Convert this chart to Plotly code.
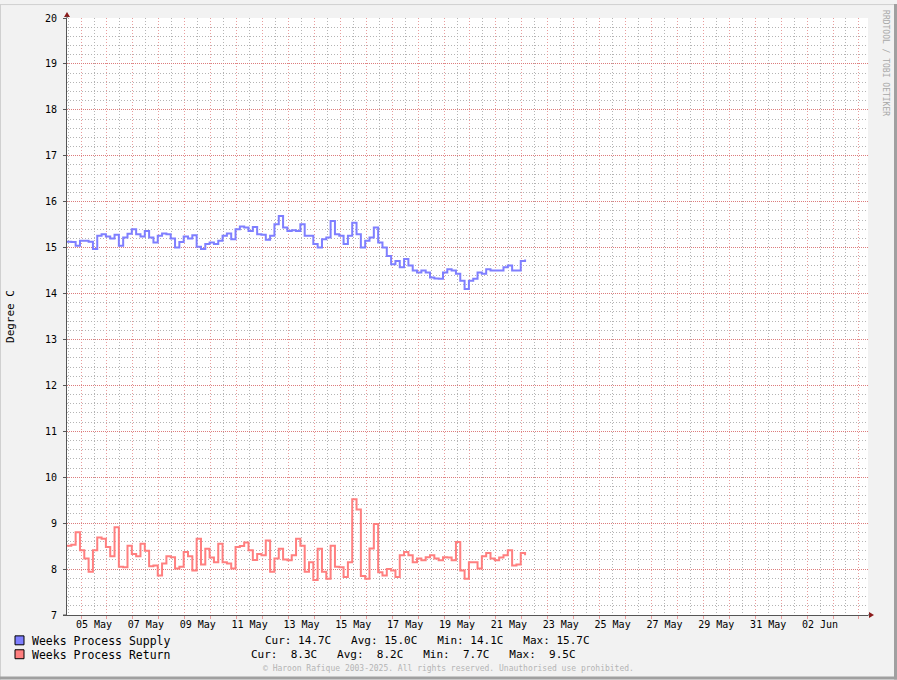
import plotly.graph_objects as go
import pandas as pd

# ---------------- data ----------------
START = "2025-05-04 11:00"
STEP = "4h"
supply = [15.13, 15.12, 15.04, 15.15, 15.15, 15.13, 14.97, 15.26, 15.29, 15.24,
          15.20, 15.28, 15.04, 15.22, 15.30, 15.40, 15.29, 15.24, 15.36, 15.22,
          15.11, 15.26, 15.31, 15.29, 15.20, 15.00, 15.12, 15.24, 15.20, 15.27,
          15.02, 14.97, 15.08, 15.11, 15.08, 15.15, 15.26, 15.31, 15.18, 15.40,
          15.46, 15.44, 15.36, 15.45, 15.29, 15.28, 15.17, 15.26, 15.51, 15.69,
          15.44, 15.36, 15.38, 15.36, 15.51, 15.26, 15.26, 15.08, 15.00, 15.18,
          15.22, 15.58, 15.29, 15.26, 15.08, 15.26, 15.54, 15.29, 15.00, 15.15,
          15.22, 15.44, 15.11, 15.00, 14.82, 14.64, 14.71, 14.57, 14.75, 14.61,
          14.50, 14.46, 14.50, 14.46, 14.35, 14.33, 14.32, 14.46, 14.53, 14.50,
          14.43, 14.28, 14.10, 14.28, 14.32, 14.46, 14.43, 14.53, 14.50, 14.50,
          14.50, 14.57, 14.61, 14.50, 14.50, 14.71, 14.74]
ret = [8.51, 8.53, 8.80, 8.41, 8.23, 7.94, 8.41, 8.69, 8.66, 8.48,
       8.28, 8.91, 8.05, 8.04, 8.51, 8.33, 8.28, 8.55, 8.40, 8.06,
       8.08, 7.86, 8.12, 8.28, 8.26, 8.01, 8.05, 8.37, 8.28, 7.97,
       8.66, 8.10, 8.44, 8.25, 8.15, 8.55, 8.15, 8.12, 8.01, 8.48,
       8.50, 8.58, 8.41, 8.20, 8.33, 8.30, 8.62, 7.94, 8.23, 8.44,
       8.21, 8.19, 8.30, 8.66, 8.51, 7.94, 8.15, 7.76, 8.44, 7.94,
       7.79, 8.51, 8.05, 8.04, 7.83, 8.15, 9.52, 9.30, 7.85, 7.79,
       8.45, 8.98, 7.93, 7.86, 8.00, 7.97, 7.83, 8.30, 8.37, 8.30,
       8.15, 8.23, 8.19, 8.26, 8.30, 8.23, 8.19, 8.26, 8.25, 8.19,
       8.59, 7.97, 7.79, 8.15, 8.15, 8.01, 8.28, 8.35, 8.23, 8.19,
       8.25, 8.30, 8.41, 8.08, 8.10, 8.35, 8.30]
label_times = ["2025-05-05 12:00", "2025-05-07 12:00", "2025-05-09 12:00", "2025-05-11 12:00",
               "2025-05-13 12:00", "2025-05-15 12:00", "2025-05-17 12:00", "2025-05-19 12:00",
               "2025-05-21 12:00", "2025-05-23 12:00", "2025-05-25 12:00", "2025-05-27 12:00",
               "2025-05-29 12:00", "2025-05-31 12:00", "2025-06-02 12:00"]
label_text = ["05 May", "07 May", "09 May", "11 May", "13 May", "15 May", "17 May", "19 May",
              "21 May", "23 May", "25 May", "27 May", "29 May", "31 May", "02 Jun"]
x_range = ["2025-05-04 11:00", "2025-06-04 08:24"]
y_range = [7, 20]
y_minor_step = 0.2
series_names = ["Weeks Process Supply", "Weeks Process Return"]
stats = ["Cur: 14.7C   Avg: 15.0C   Min: 14.1C   Max: 15.7C",
         "Cur:  8.3C   Avg:  8.2C   Min:  7.7C   Max:  9.5C"]
colors = ["#7f7fff", "#ff7f7f"]

times = pd.date_range(START, periods=len(supply), freq=STEP)

# minor gridline positions on y (skip the integer ones, which carry the major grid)
n_minor = int(round((y_range[1] - y_range[0]) / y_minor_step))
y_minor_vals = [round(y_range[0] + k * y_minor_step, 3) for k in range(n_minor + 1) if k % 5 != 0]

MONO = "DejaVu Sans Mono"
W, H = 897, 680
L, R, T, B = 67, 29, 14, 65
PW, PH = W - L - R, H - T - B

GREY = "#b4b4b4"
RED_X = "#e89c9c"
RED_Y = "#dc7c7c"
DASH_MINOR = "1px,2px"

fig = go.Figure()
fig.add_trace(go.Scatter(x=times, y=supply, mode="lines", name=series_names[0],
                         line=dict(color=colors[0], width=2, shape="hv"),
                         hoverinfo="skip", showlegend=False))
fig.add_trace(go.Scatter(x=times, y=ret, mode="lines", name=series_names[1],
                         line=dict(color=colors[1], width=2, shape="hv"),
                         xaxis="x2", hoverinfo="skip", showlegend=False))

fig.update_layout(
    width=W, height=H,
    margin=dict(l=L, r=R, t=T, b=B, pad=0),
    paper_bgcolor="#f2f2f2", plot_bgcolor="#ffffff",
    font=dict(family=MONO, size=10, color="#000"),
    xaxis=dict(type="date", range=x_range, tickmode="linear",
               tick0="2025-05-05 00:00", dtick=86400000,
               showticklabels=False, ticks="outside", ticklen=3, tickcolor=RED_X,
               showgrid=True, gridcolor=RED_X, griddash="1px,2px", gridwidth=1,
               minor=dict(tick0="2025-05-05 00:00", dtick=43200000, showgrid=True,
                          gridcolor=GREY, griddash=DASH_MINOR, ticks=""),
               showline=True, linecolor="#555", linewidth=1, zeroline=False,
               fixedrange=True),
    xaxis2=dict(type="date", overlaying="x", matches="x", anchor="y", side="bottom",
                range=x_range, tickmode="array", tickvals=label_times, ticktext=label_text,
                showgrid=False, ticks="", showline=False, zeroline=False,
                tickfont=dict(family=MONO, size=10, color="#000"), ticklabelstandoff=2),
    yaxis=dict(range=y_range, tickmode="linear", tick0=7, dtick=1,
               showgrid=True, gridcolor=RED_Y, griddash="1px,1px", gridwidth=1,
               minor=dict(tickmode="array", tickvals=y_minor_vals, showgrid=True,
                          gridcolor=GREY, griddash=DASH_MINOR, ticks=""),
               ticks="outside", ticklen=3, tickcolor="#555",
               showline=True, linecolor="#555", linewidth=1, zeroline=False,
               tickfont=dict(family=MONO, size=10, color="#000"), ticklabelstandoff=4,
               fixedrange=True),
)

shapes = []
# axis arrows (dark red triangles), pixel sized
shapes.append(dict(type="path", xref="paper", yref="paper", xsizemode="pixel", ysizemode="pixel",
                   xanchor=0, yanchor=1, path="M -3,1 L 3,1 L 0,6 Z",
                   fillcolor="#8b1a1a", line=dict(width=0)))
shapes.append(dict(type="path", xref="paper", yref="paper", xsizemode="pixel", ysizemode="pixel",
                   xanchor=1, yanchor=0, path="M 1,-3 L 1,3 L 6,0 Z",
                   fillcolor="#8b1a1a", line=dict(width=0)))
# axis extensions
shapes.append(dict(type="line", xref="paper", yref="paper", xsizemode="pixel", ysizemode="pixel",
                   xanchor=0, yanchor=1, x0=0, x1=0, y0=0, y1=2, line=dict(color="#555", width=1)))
shapes.append(dict(type="line", xref="paper", yref="paper", xsizemode="pixel", ysizemode="pixel",
                   xanchor=1, yanchor=0, x0=0, x1=2, y0=0, y1=0, line=dict(color="#555", width=1)))
shapes.append(dict(type="line", xref="paper", yref="paper", xsizemode="pixel", ysizemode="pixel",
                   xanchor=0, yanchor=0, x0=-4, x1=0, y0=0, y1=0, line=dict(color="#555", width=1)))


def px_x(px):
    return (px - L) / PW


def px_y(py):
    return 1 - (py - T) / PH


# legend swatches
for i, c in enumerate(colors):
    top = 636 + 14 * i
    shapes.append(dict(type="rect", xref="paper", yref="paper",
                       x0=px_x(15), x1=px_x(24), y0=px_y(top + 9), y1=px_y(top),
                       fillcolor=c, line=dict(color="#000", width=1)))

# image frame
shapes.append(dict(type="line", xref="paper", yref="paper", x0=px_x(0.5), x1=px_x(0.5),
                   y0=px_y(0), y1=px_y(H), line=dict(color="#d0d0d0", width=1)))
shapes.append(dict(type="line", xref="paper", yref="paper", x0=px_x(0), x1=px_x(W),
                   y0=px_y(0.5), y1=px_y(0.5), line=dict(color="#d0d0d0", width=1)))
shapes.append(dict(type="line", xref="paper", yref="paper", x0=px_x(0), x1=px_x(W),
                   y0=px_y(H - 1.5), y1=px_y(H - 1.5), line=dict(color="#a0a0a0", width=3)))
shapes.append(dict(type="line", xref="paper", yref="paper", x0=px_x(W - 1.5), x1=px_x(W - 1.5),
                   y0=px_y(0), y1=px_y(H), line=dict(color="#a0a0a0", width=3)))

annotations = []
annotations.append(dict(text="Degree C", xref="paper", yref="paper", x=px_x(11), y=px_y(315),
                        textangle=-90, showarrow=False, xanchor="center", yanchor="middle",
                        font=dict(family=MONO, size=11, color="#000")))
annotations.append(dict(text="RRDTOOL / TOBI OETIKER", xref="paper", yref="paper",
                        x=px_x(886), y=px_y(4), textangle=90, showarrow=False,
                        xanchor="center", yanchor="top",
                        font=dict(family=MONO, size=8, color="#a8a8a8")))
stat_x = [263, 249]
for i, (nm, st) in enumerate(zip(series_names, stats)):
    cy = 641 + 14 * i
    annotations.append(dict(text=nm, xref="paper", yref="paper", x=px_x(30), y=px_y(cy),
                            xanchor="left", yanchor="middle", showarrow=False,
                            font=dict(family=MONO, size=11.5, color="#000")))
    annotations.append(dict(text=st.replace(" ", "&nbsp;"), xref="paper", yref="paper",
                            x=px_x(stat_x[i]), y=px_y(cy),
                            xanchor="left", yanchor="middle", showarrow=False,
                            font=dict(family=MONO, size=11, color="#000")))
annotations.append(dict(text="© Haroon Rafique 2003-2025. All rights reserved. Unauthorised use prohibited.",
                        xref="paper", yref="paper", x=px_x(448), y=px_y(669),
                        xanchor="center", yanchor="middle", showarrow=False,
                        font=dict(family=MONO, size=8, color="#b4b4b4")))

fig.update_layout(shapes=shapes, annotations=annotations)

post = ("document.documentElement.style.margin='0';document.body.style.margin='0';"
        "document.body.style.padding='0';"
        "var g=document.getElementById('{plot_id}');"
        "if(g&&g.parentElement){g.parentElement.style.lineHeight='0';g.parentElement.style.fontSize='0';}")
fig.write_html("out.html", post_script=post, config={"displayModeBar": False, "staticPlot": True})
